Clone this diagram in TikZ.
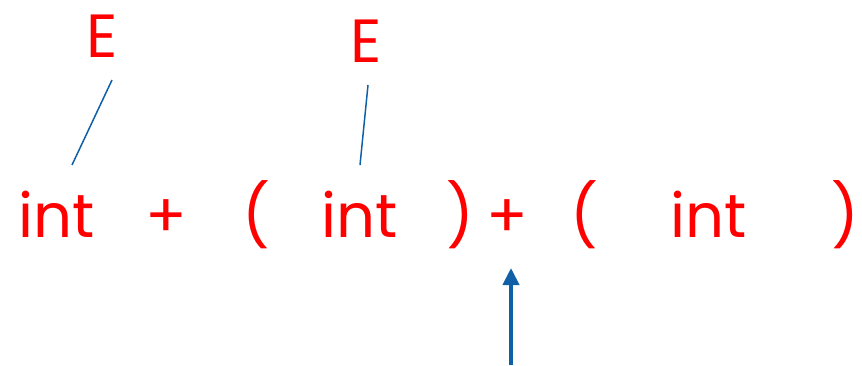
\documentclass[tikz,border=0pt]{standalone}
\usepackage{fontspec}
\setmainfont{Poppins}
\usetikzlibrary{arrows.meta}
\definecolor{tokred}{RGB}{255,0,0}
\definecolor{lineblue}{RGB}{16,96,168}
\begin{document}
\begin{tikzpicture}[x=1pt,y=-1pt,
  tok/.style={text=tokred,font=\fontsize{61}{61}\selectfont,inner sep=0pt,anchor=base},
  edge/.style={draw=lineblue,line width=1.5pt},
  ptr/.style={draw=lineblue,line width=4pt,-{Triangle[length=17pt,width=16pt]}}]
\useasboundingbox (0,0) rectangle (862,365);
\node[tok] (int1) at (57,237) {int};
\node[tok] (plus1) at (166,237) {+};
\node[tok] (lp1) at (256,237) {(};
\node[tok] (int2) at (360,237) {int};
\node[tok] (rp1) at (460,237) {)};
\node[tok] (plus2) at (507,237) {+};
\node[tok] (lp2) at (584,237) {(};
\node[tok] (int3) at (709,237) {int};
\node[tok] (rp2) at (845,237) {)};
\node[tok] (E1) at (102,57) {E};
\node[tok] (E2) at (366,62) {E};
\coordinate (a1) at (112,80);
\coordinate (b1) at (72,165);
\coordinate (a2) at (368,85);
\coordinate (b2) at (360,165);
\coordinate (pbase) at (511,365);
\coordinate (ptip) at (511,268);
\draw[edge] (a1) -- (b1);
\draw[edge] (a2) -- (b2);
\draw[ptr] (pbase) -- (ptip);
\end{tikzpicture}
\end{document}
